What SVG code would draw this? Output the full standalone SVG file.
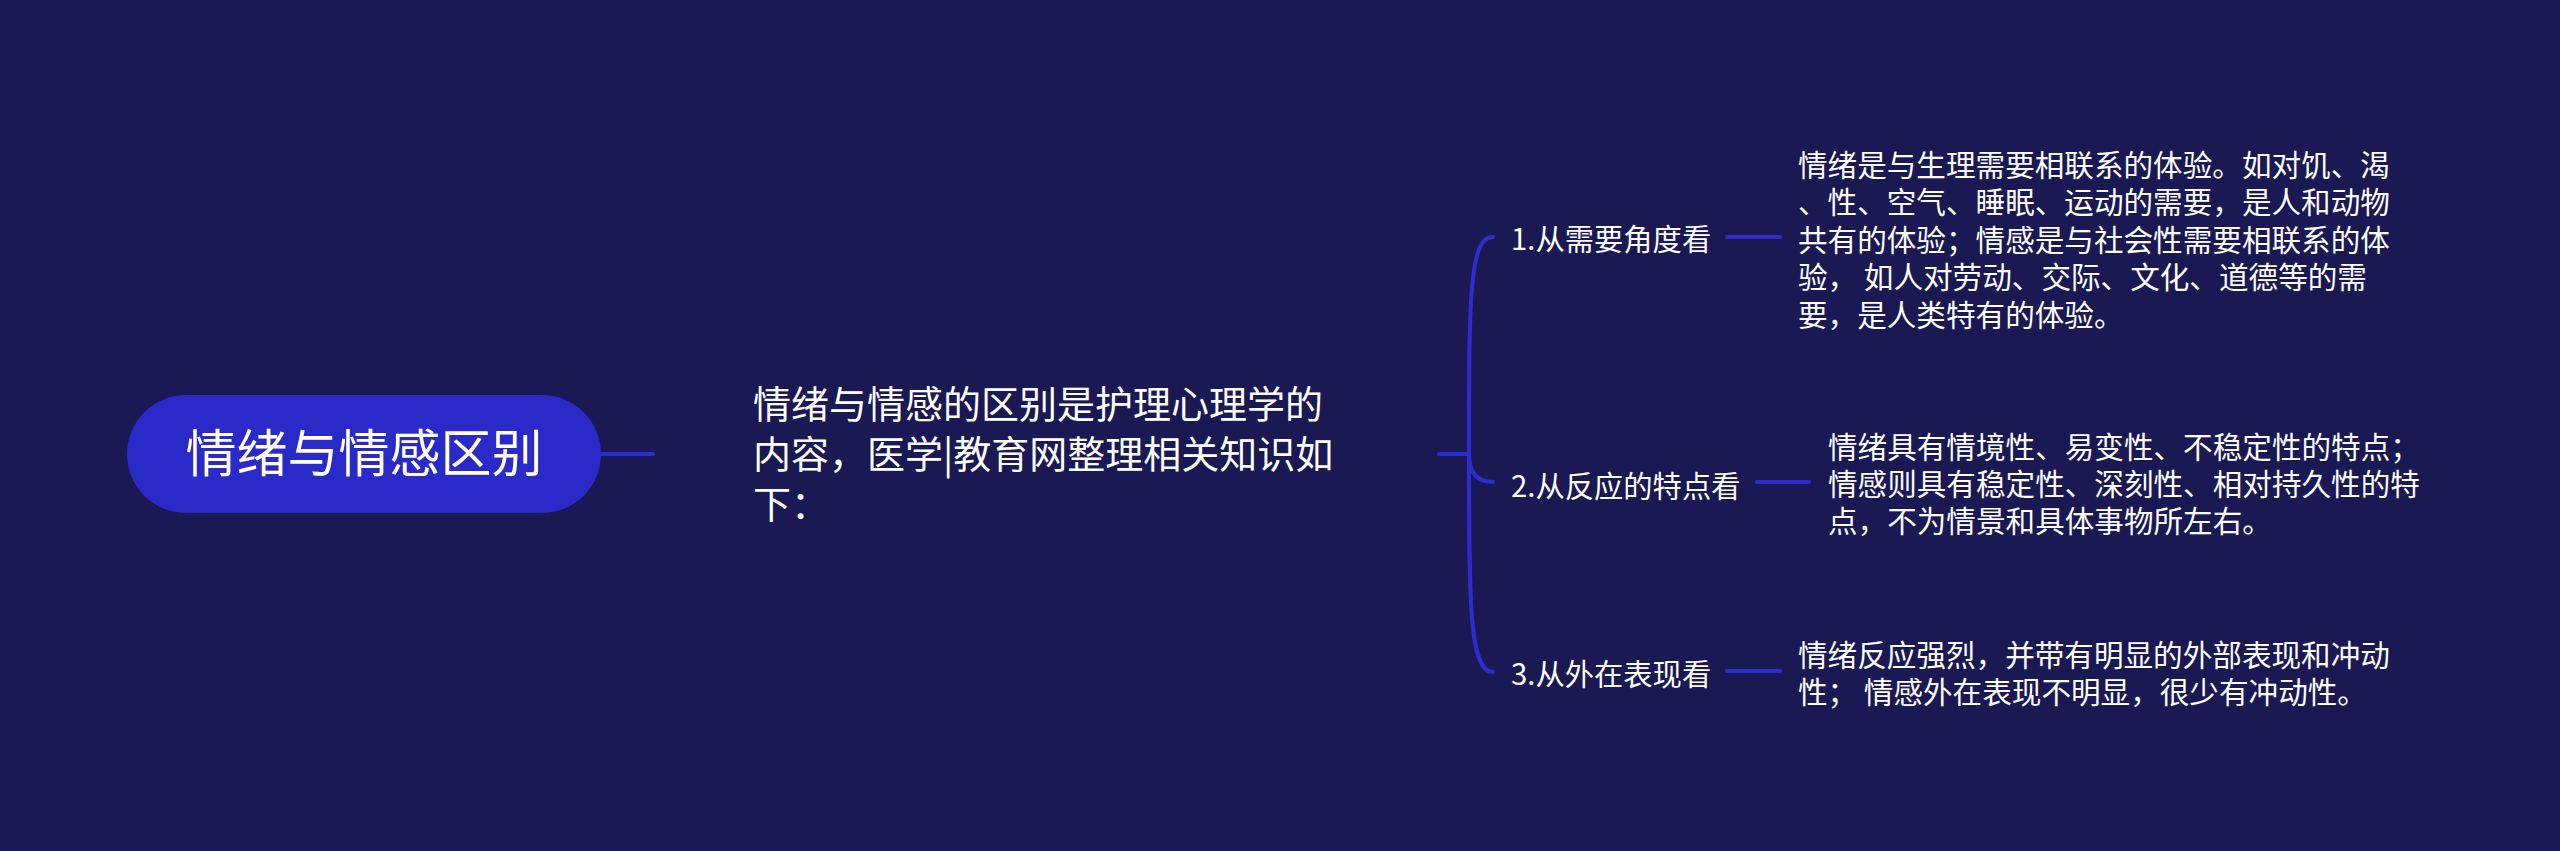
<svg xmlns="http://www.w3.org/2000/svg" width="2560" height="851" viewBox="0 0 2560 851">
<style>
.bg{fill:#1a1953}
.t{font-family:"Noto Sans CJK SC","Noto Sans",sans-serif;fill:#ffffff}
.root{font-size:51px}
.mid{font-size:38px}
.lab{font-size:29.3px}
.det{font-size:29.6px}
.c{fill:none;stroke:#2d2dcf;stroke-width:4;stroke-linecap:round}
</style>
<rect class="bg" x="0" y="0" width="2560" height="851"/>
<g id="connectors">
<path class="c" d="M601 454 L653 454"/>
<path class="c" d="M1439 454 L1469 454"/>
<path class="c" d="M1469 454 C1469 300 1469 237 1493 237"/>
<path class="c" d="M1469 454 Q1469 482 1493 482"/>
<path class="c" d="M1469 454 C1469 600 1469 672 1493 672"/>
<path class="c" d="M1727 237 L1780 237"/>
<path class="c" d="M1757 482 L1809 482"/>
<path class="c" d="M1727 671 L1780 671"/>
</g>
<g id="root">
<rect x="127" y="395" width="474" height="118" rx="59" fill="#2a2ac8"/>
<text class="t root" x="364" y="472" text-anchor="middle">情绪与情感区别</text>
</g>
<g id="intro">
<text class="t mid" x="753" y="418">情绪与情感的区别是护理心理学的</text>
<text class="t mid" x="753" y="468">内容，医学|教育网整理相关知识如</text>
<text class="t mid" x="753" y="518">下：</text>
</g>
<g id="branch1">
<text class="t lab" x="1511" y="250">1.从需要角度看</text>
</g>
<g id="detail1">
<text class="t det" x="1798" y="175.5">情绪是与生理需要相联系的体验。如对饥、渴</text>
<text class="t det" x="1798" y="213">、性、空气、睡眠、运动的需要，是人和动物</text>
<text class="t det" x="1798" y="250.5">共有的体验；情感是与社会性需要相联系的体</text>
<text class="t det" x="1798" y="288" xml:space="preserve">验， 如人对劳动、交际、文化、道德等的需</text>
<text class="t det" x="1798" y="325.5">要，是人类特有的体验。</text>
</g>
<g id="branch2">
<text class="t lab" x="1511" y="497">2.从反应的特点看</text>
</g>
<g id="detail2">
<text class="t det" x="1828" y="457.5">情绪具有情境性、易变性、不稳定性的特点；</text>
<text class="t det" x="1828" y="494.5">情感则具有稳定性、深刻性、相对持久性的特</text>
<text class="t det" x="1828" y="531.5">点，不为情景和具体事物所左右。</text>
</g>
<g id="branch3">
<text class="t lab" x="1511" y="685">3.从外在表现看</text>
</g>
<g id="detail3">
<text class="t det" x="1798" y="665.5">情绪反应强烈，并带有明显的外部表现和冲动</text>
<text class="t det" x="1798" y="702.5" xml:space="preserve">性； 情感外在表现不明显，很少有冲动性。</text>
</g>
</svg>
